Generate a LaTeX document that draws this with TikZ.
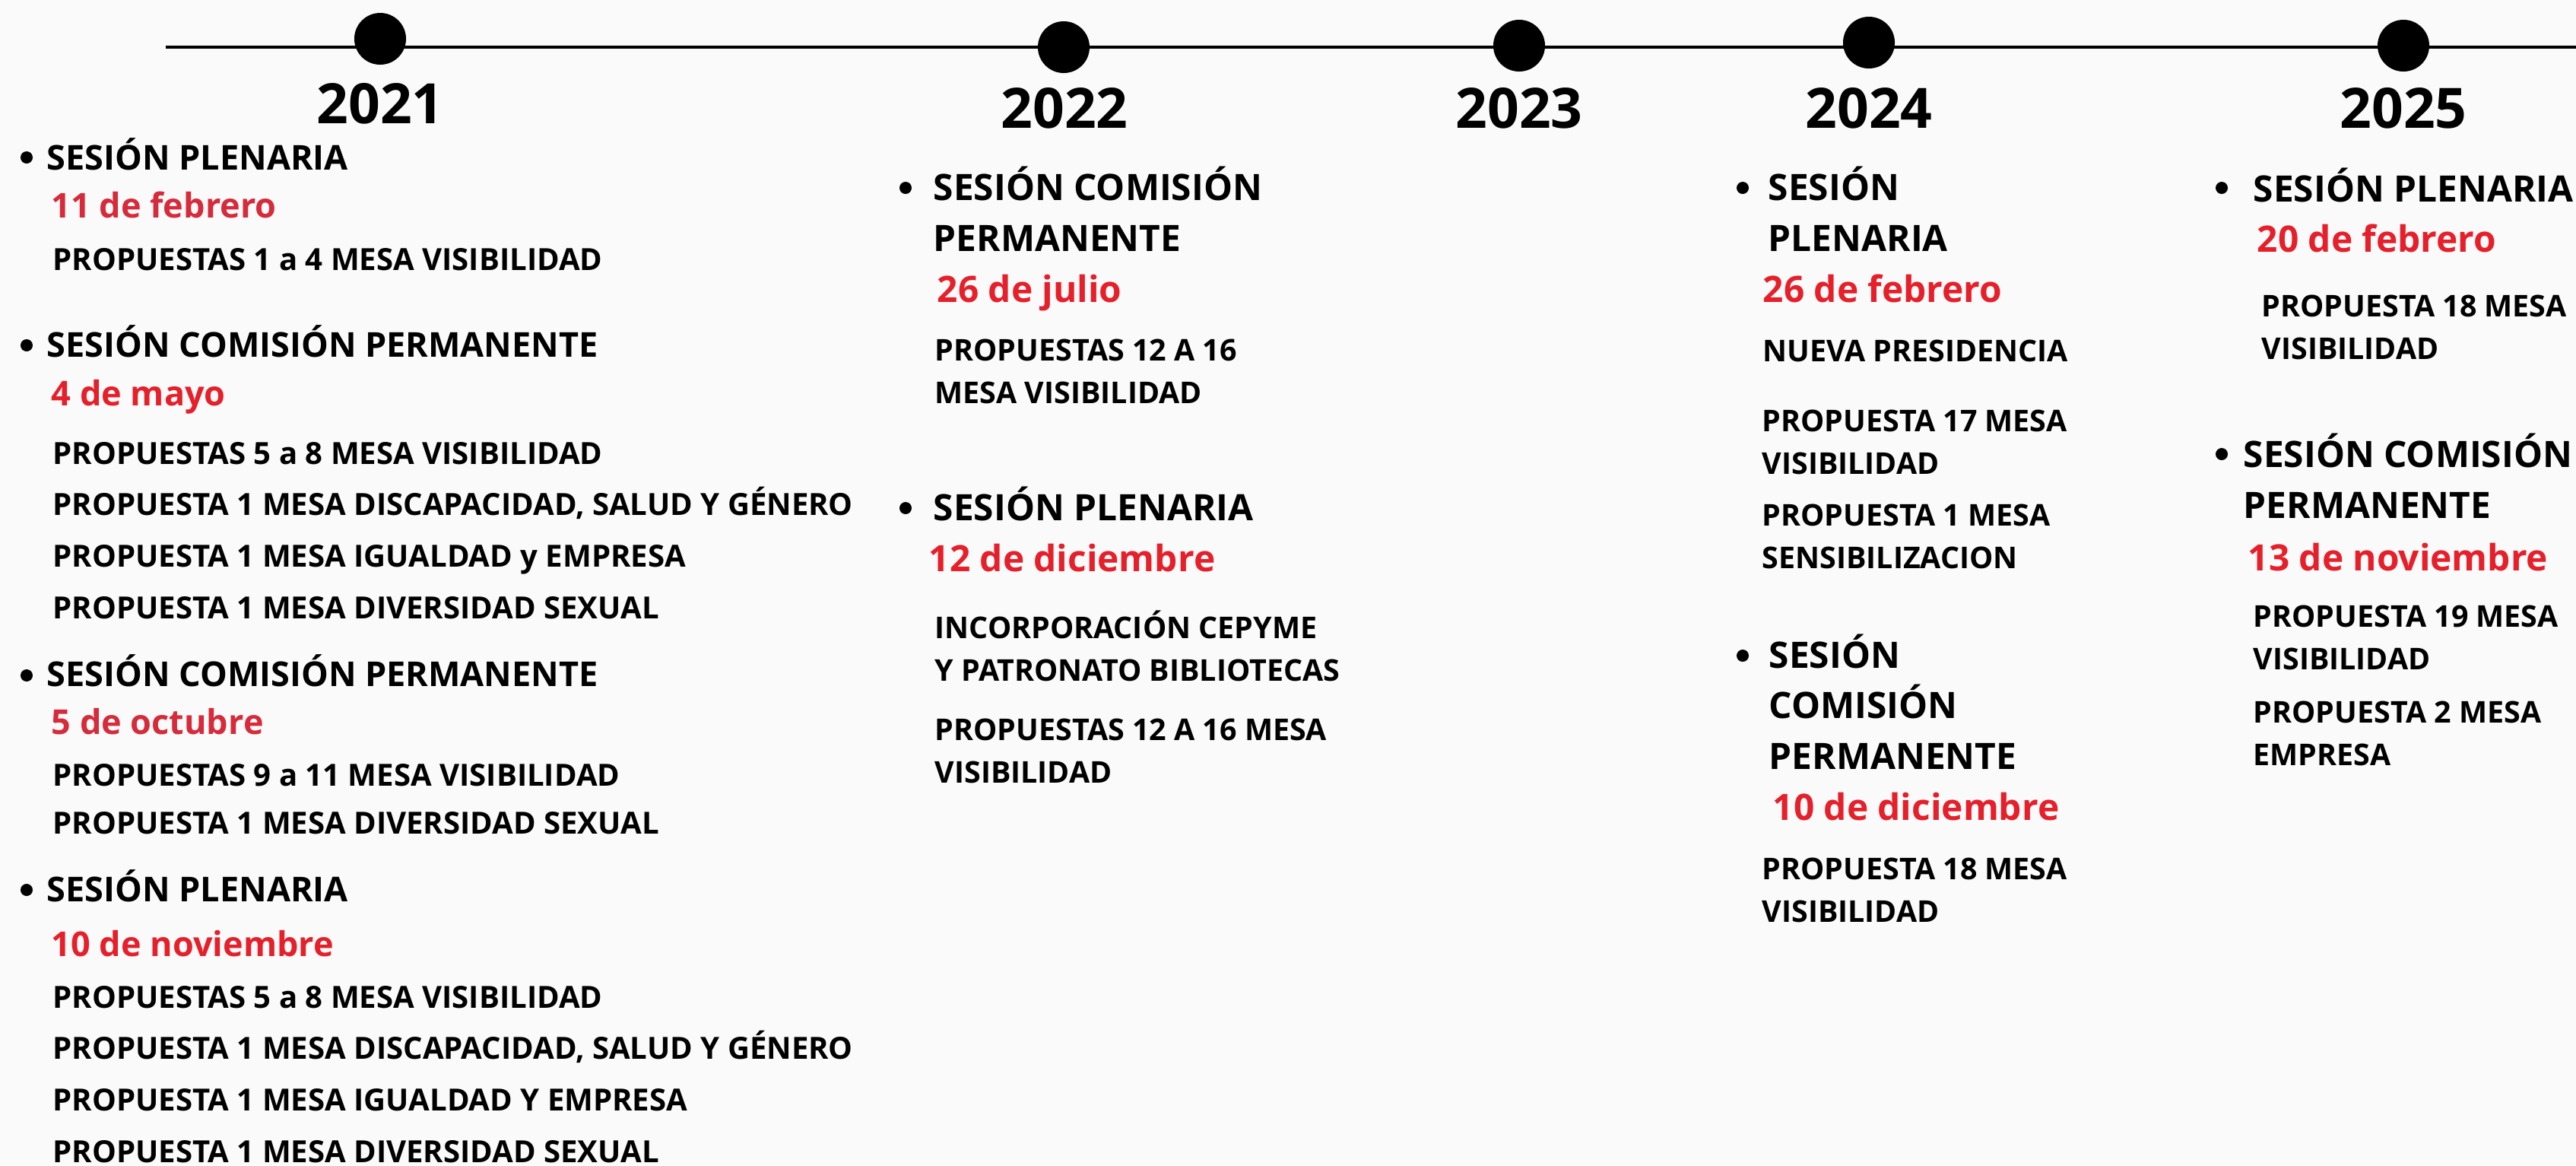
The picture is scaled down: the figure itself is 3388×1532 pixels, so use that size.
\documentclass[tikz,border=0pt]{standalone}
\usepackage{fontspec}
\setmainfont{Open Sans}
\usepackage{xcolor}
\usetikzlibrary{positioning}
\definecolor{datered}{HTML}{E5202B}
\definecolor{darkred}{HTML}{D52B3B}
\definecolor{paper}{HTML}{FAFAFA}
\tikzstyle{axis}=[draw=black, line width=0.04cm]
\tikzstyle{milestone}=[circle, fill=black, inner sep=0pt, minimum size=0.68cm]
\tikzstyle{bullet}=[circle, fill=black, inner sep=0pt, minimum size=0.16cm]
\tikzstyle{year}=[anchor=base, inner sep=0pt, font=\bfseries\fontsize{20.8pt}{24pt}\selectfont]
% multi-line nodes sit on the baseline of their last line
\tikzstyle{head}=[anchor=base west, inner sep=0pt, align=left, font=\bfseries\fontsize{13.6pt}{18.8pt}\selectfont]
\tikzstyle{smallhead}=[head, font=\bfseries\fontsize{12.8pt}{15pt}\selectfont]
\tikzstyle{date}=[anchor=base west, inner sep=0pt, text=datered, font=\bfseries\fontsize{13.6pt}{17pt}\selectfont]
\tikzstyle{smalldate}=[date, font=\bfseries\fontsize{12.8pt}{15pt}\selectfont]
\tikzstyle{item}=[anchor=base west, inner sep=0pt, align=left, font=\bfseries\fontsize{11.2pt}{15.8pt}\selectfont]
\tikzstyle{longitem}=[item, font=\bfseries\fontsize{11.4pt}{19.2pt}\selectfont]

\begin{document}
\begin{tikzpicture}[x=0.01cm, y=-0.01cm]
    \fill[paper] (0,0) rectangle (3388,1532);
    \useasboundingbox (0,0) rectangle (3388,1532);

    % timeline
    \coordinate (start) at (218,62);
    \coordinate (end)   at (3388,62);
    \draw[axis] (start) -- (end);

    \node[milestone] (m2021) at (500,51)  {};
    \node[milestone] (m2022) at (1399,62) {};
    \node[milestone] (m2023) at (1998,60) {};
    \node[milestone] (m2024) at (2458,56) {};
    \node[milestone] (m2025) at (3161,60) {};

    \node[year] (y2021) at (500,162)  {2021};
    \node[year] (y2022) at (1400,168) {2022};
    \node[year] (y2023) at (1998,168) {2023};
    \node[year] (y2024) at (2458,168) {2024};
    \node[year] (y2025) at (3161,168) {2025};

    % 2021
    \node[bullet]    (b2021a) at (35,207) {};
    \node[smallhead] (s2021a) at (61,223) {SESIÓN PLENARIA};
    \node[smalldate, text=darkred] (d2021a) at (67,286) {11 de febrero};
    \node[longitem]  (p2021a) at (69,355) {PROPUESTAS 1 a 4 MESA VISIBILIDAD};

    \node[bullet]    (b2021b) at (35,454) {};
    \node[smallhead] (s2021b) at (61,469) {SESIÓN COMISIÓN PERMANENTE};
    \node[smalldate] (d2021b) at (67,533) {4 de mayo};
    \node[longitem]  (p2021b) at (69,813) {PROPUESTAS 5 a 8 MESA VISIBILIDAD\\PROPUESTA 1 MESA DISCAPACIDAD, SALUD Y GÉNERO\\PROPUESTA 1 MESA IGUALDAD y EMPRESA\\PROPUESTA 1 MESA DIVERSIDAD SEXUAL};

    \node[bullet]    (b2021c) at (35,888) {};
    \node[smallhead] (s2021c) at (61,902) {SESIÓN COMISIÓN PERMANENTE};
    \node[smalldate, text=darkred] (d2021c) at (67,965) {5 de octubre};
    \node[longitem]  (p2021c) at (69,1096) {PROPUESTAS 9 a 11 MESA VISIBILIDAD\\[-1.3pt]PROPUESTA 1 MESA DIVERSIDAD SEXUAL};

    \node[bullet]    (b2021d) at (35,1170) {};
    \node[smallhead] (s2021d) at (61,1185) {SESIÓN PLENARIA};
    \node[smalldate] (d2021d) at (67,1257) {10 de noviembre};
    \node[longitem]  (p2021d) at (69,1528) {PROPUESTAS 5 a 8 MESA VISIBILIDAD\\PROPUESTA 1 MESA DISCAPACIDAD, SALUD Y GÉNERO\\PROPUESTA 1 MESA IGUALDAD Y EMPRESA\\PROPUESTA 1 MESA DIVERSIDAD SEXUAL};

    % 2022
    \node[bullet] (b2022a) at (1191,247) {};
    \node[head]   (s2022a) at (1227,330) {SESIÓN COMISIÓN\\PERMANENTE};
    \node[date]   (d2022a) at (1232,397) {26 de julio};
    \node[item]   (p2022a) at (1229,530) {PROPUESTAS 12 A 16\\MESA VISIBILIDAD};

    \node[bullet] (b2022b) at (1191,668) {};
    \node[head]   (s2022b) at (1227,684) {SESIÓN PLENARIA};
    \node[date]   (d2022b) at (1221,751) {12 de diciembre};
    \node[item]   (p2022b) at (1229,895) {INCORPORACIÓN CEPYME\\Y PATRONATO BIBLIOTECAS};
    \node[item]   (p2022c) at (1229,1029) {PROPUESTAS 12 A 16 MESA\\VISIBILIDAD};

    % 2024
    \node[bullet] (b2024a) at (2292,247) {};
    \node[head]   (s2024a) at (2325,330) {SESIÓN\\PLENARIA};
    \node[date]   (d2024a) at (2318,397) {26 de febrero};
    \node[item]   (p2024a) at (2318,475) {NUEVA PRESIDENCIA};
    \node[item]   (p2024b) at (2317,623) {PROPUESTA 17 MESA\\VISIBILIDAD};
    \node[item]   (p2024c) at (2317,747) {PROPUESTA 1 MESA\\SENSIBILIZACION};

    \node[bullet] (b2024b) at (2292,862) {};
    \node[head]   (s2024b) at (2326,1011) {SESIÓN\\COMISIÓN\\PERMANENTE};
    \node[date]   (d2024b) at (2331,1078) {10 de diciembre};
    \node[item]   (p2024d) at (2317,1212) {PROPUESTA 18 MESA\\VISIBILIDAD};

    % 2025
    \node[bullet] (b2025a) at (2922,247) {};
    \node[head]   (s2025a) at (2963,265) {SESIÓN PLENARIA};
    \node[date]   (d2025a) at (2968,331) {20 de febrero};
    \node[item]   (p2025a) at (2974,472) {PROPUESTA 18 MESA\\VISIBILIDAD};

    \node[bullet] (b2025b) at (2922,597) {};
    \node[head]   (s2025b) at (2950,681) {SESIÓN COMISIÓN\\PERMANENTE};
    \node[date]   (d2025b) at (2956,750) {13 de noviembre};
    \node[item]   (p2025b) at (2963,880) {PROPUESTA 19 MESA\\VISIBILIDAD};
    \node[item]   (p2025c) at (2963,1006) {PROPUESTA 2 MESA\\EMPRESA};
\end{tikzpicture}
\end{document}
